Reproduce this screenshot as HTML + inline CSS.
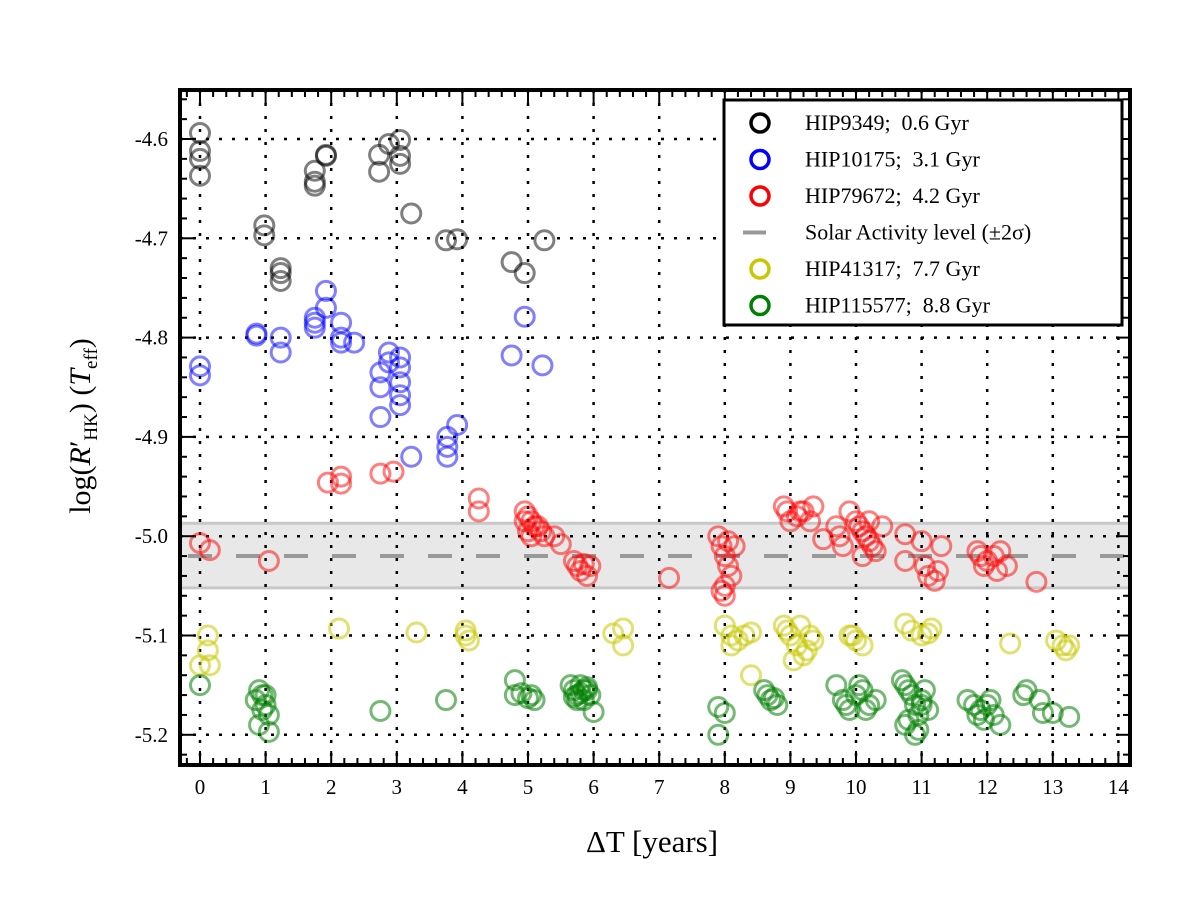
<!DOCTYPE html>
<html><head><meta charset="utf-8"><style>
body{margin:0;background:#fff;}
svg text{font-family:"Liberation Serif","DejaVu Serif",serif;}
</style></head><body>
<svg id="chart" width="1200" height="900" viewBox="0 0 1200 900" xmlns="http://www.w3.org/2000/svg">
<rect width="1200" height="900" fill="#fff"/>
<g id="band"></g>
<g id="grid"></g>
<g id="marks"></g>
<g id="axes"></g>
<text x="652" y="852" font-size="31" text-anchor="middle">ΔT [years]</text>
<text transform="translate(90,426) rotate(-90)" font-size="30" text-anchor="middle">log(<tspan font-style="italic">R</tspan>′<tspan font-size="19" dy="7">HK</tspan><tspan dy="-7">) (</tspan><tspan font-style="italic">T</tspan><tspan font-size="19" dy="7">eff</tspan><tspan dy="-7">)</tspan></text>
<g>
<rect x="724" y="100" width="398" height="225" fill="#fff" stroke="#000" stroke-width="3"/>
<g id="legend-items"></g>
</g>
</svg>
<script>
const xTicks=[0,1,2,3,4,5,6,7,8,9,10,11,12,13,14];
const yTicks=[-4.6,-4.7,-4.8,-4.9,-5.0,-5.1,-5.2];
const solarMean=-5.02, solarLow=-5.052, solarHigh=-4.987;
const blackX=[0,0,0,0,0.98,0.98,1.23,1.23,1.23,1.75,1.75,1.75,1.92,1.92,2.73,2.73,2.88,3.05,3.05,3.05,3.22,3.75,3.92,4.75,4.95,5.25];
const blackY=[-4.594,-4.612,-4.62,-4.637,-4.687,-4.697,-4.73,-4.735,-4.743,-4.632,-4.643,-4.647,-4.616,-4.617,-4.616,-4.633,-4.605,-4.601,-4.617,-4.625,-4.675,-4.702,-4.701,-4.724,-4.735,-4.702];
const blueX=[0,0,0.86,0.86,1.23,1.23,1.75,1.75,1.75,1.92,1.92,2.15,2.15,2.15,2.35,2.75,2.75,2.75,2.88,2.88,3.05,3.05,3.05,3.05,3.05,3.22,3.77,3.77,3.77,3.92,4.75,4.95,5.22];
const blueY=[-4.829,-4.838,-4.796,-4.798,-4.8,-4.815,-4.78,-4.79,-4.785,-4.753,-4.77,-4.785,-4.8,-4.805,-4.805,-4.835,-4.85,-4.88,-4.815,-4.825,-4.82,-4.83,-4.845,-4.858,-4.868,-4.92,-4.9,-4.91,-4.92,-4.888,-4.818,-4.779,-4.828];
const redX=[0,0.15,1.05,1.95,2.15,2.15,2.75,2.95,4.25,4.25,4.95,5.0,5.05,5.1,5.0,5.05,4.95,5.15,5.2,5.25,5.4,5.5,5.7,5.75,5.8,5.9,5.95,5.85,7.15,7.9,7.95,8.0,8.05,8.1,8.0,7.95,8.15,8.05,8.0,8.9,8.95,9.0,9.1,9.15,9.2,9.35,9.3,9.5,9.7,9.75,9.8,9.9,10.0,10.05,10.1,10.15,10.2,10.25,10.3,10.4,10.1,10.2,10.75,10.75,11.0,11.05,11.1,11.2,11.25,11.3,11.85,11.9,11.95,12.0,12.1,12.15,12.2,12.3,12.75];
const redY=[-5.007,-5.014,-5.025,-4.946,-4.94,-4.947,-4.937,-4.935,-4.962,-4.975,-4.975,-4.98,-4.985,-4.99,-4.995,-5.0,-4.985,-4.99,-4.995,-5.0,-5.0,-5.008,-5.025,-5.03,-5.035,-5.04,-5.03,-5.028,-5.042,-5.0,-5.01,-5.02,-5.03,-5.04,-5.05,-5.055,-5.01,-5.005,-5.06,-4.97,-4.975,-4.985,-4.98,-4.975,-4.975,-4.97,-4.985,-5.003,-4.99,-5.0,-5.01,-4.975,-4.985,-4.99,-4.995,-5.0,-5.005,-5.01,-5.015,-4.99,-5.02,-4.985,-4.998,-5.025,-5.005,-5.03,-5.04,-5.045,-5.035,-5.01,-5.015,-5.02,-5.03,-5.025,-5.02,-5.035,-5.015,-5.03,-5.046];
const yellowX=[0,0.12,0.12,0.15,2.12,3.3,4.05,4.05,4.1,6.3,6.45,6.45,8.0,8.1,8.2,8.3,8.1,8.4,8.4,8.9,8.95,9.0,9.1,9.15,9.2,9.3,9.35,9.25,9.05,9.9,9.95,10.0,10.1,10.75,10.85,11.0,11.1,11.15,12.35,13.05,13.15,13.2,13.25];
const yellowY=[-5.13,-5.1,-5.115,-5.13,-5.093,-5.097,-5.095,-5.1,-5.105,-5.098,-5.093,-5.11,-5.09,-5.1,-5.105,-5.1,-5.11,-5.097,-5.14,-5.09,-5.095,-5.1,-5.11,-5.09,-5.12,-5.1,-5.105,-5.115,-5.125,-5.1,-5.1,-5.105,-5.11,-5.088,-5.095,-5.1,-5.098,-5.093,-5.108,-5.105,-5.11,-5.115,-5.11];
const greenX=[0,0.85,0.9,0.95,1.0,1.05,0.9,0.95,1.0,1.05,2.75,3.75,4.8,4.8,4.9,5.0,5.05,5.1,5.65,5.7,5.75,5.8,5.85,5.9,5.95,5.7,5.8,5.9,5.75,5.85,6.0,7.9,7.9,8.0,8.6,8.65,8.7,8.8,8.75,9.7,9.8,9.9,10.0,10.1,10.2,10.3,9.85,10.05,10.15,10.7,10.75,10.8,10.85,10.9,10.95,11.0,11.05,11.1,10.8,10.9,10.75,10.95,11.0,11.7,11.8,11.85,11.9,11.95,12.0,12.05,12.1,12.2,12.55,12.6,12.8,12.85,13.0,13.25];
const greenY=[-5.15,-5.165,-5.155,-5.16,-5.17,-5.18,-5.19,-5.175,-5.16,-5.197,-5.176,-5.165,-5.145,-5.16,-5.158,-5.163,-5.16,-5.165,-5.15,-5.155,-5.16,-5.15,-5.165,-5.155,-5.16,-5.162,-5.158,-5.152,-5.165,-5.155,-5.177,-5.172,-5.2,-5.178,-5.155,-5.16,-5.165,-5.17,-5.163,-5.15,-5.165,-5.175,-5.16,-5.155,-5.17,-5.165,-5.17,-5.15,-5.175,-5.145,-5.15,-5.155,-5.16,-5.17,-5.18,-5.165,-5.155,-5.175,-5.185,-5.2,-5.19,-5.195,-5.17,-5.165,-5.17,-5.18,-5.175,-5.185,-5.17,-5.165,-5.18,-5.19,-5.16,-5.155,-5.165,-5.178,-5.178,-5.182];

const L=180,R=1130,T=90,B=765;
const X0=200,XS=65.6;
function sx(v){return X0+v*XS;}
function sy(v){return 139+(-4.6-v)*993;}
const NS='http://www.w3.org/2000/svg';
function mk(tag,attrs,parent){const e=document.createElementNS(NS,tag);for(const k in attrs)e.setAttribute(k,attrs[k]);parent.appendChild(e);return e;}
const band=document.getElementById('band');
const br=mk('rect',{x:L,y:sy(solarHigh),width:R-L,height:sy(solarLow)-sy(solarHigh),fill:'#e8e8e8'},band);


[solarHigh,solarLow].forEach(v=>{const l=mk('line',{x1:L,x2:R,y1:sy(v),y2:sy(v),stroke:'#c8c8c8','stroke-width':3},band);

});
const ml=mk('line',{x1:L,x2:R,y1:sy(solarMean),y2:sy(solarMean),stroke:'#999','stroke-width':4,'stroke-dasharray':'24 24','stroke-dashoffset':'-8'},band);


const grid=document.getElementById('grid');
xTicks.forEach(v=>{const x=sx(v);if(x>L&&x<R){const g=mk('line',{x1:x,x2:x,y1:T,y2:B,stroke:'#000','stroke-width':2.5,'stroke-dasharray':'3 10'},grid);

}});
yTicks.forEach(v=>{const y=sy(v);const g=mk('line',{x1:L,x2:R,y1:y,y2:y,stroke:'#000','stroke-width':2.5,'stroke-dasharray':'3 10'},grid);

});
const marks=document.getElementById('marks');
const series=[['black',blackX,blackY,'#000',0.5],['blue',blueX,blueY,'#0000ff',0.5],['red',redX,redY,'#ff0000',0.5],['yellow',yellowX,yellowY,'#c8c800',0.55],['green',greenX,greenY,'#008000',0.55]];
series.forEach(s=>{const g=mk('g',{},marks);


s[1].forEach((xv,i)=>{const c=mk('circle',{cx:sx(xv),cy:sy(s[2][i]),r:9.5,fill:'none',stroke:s[3],'stroke-width':3,'stroke-opacity':s[4]},g);

});});
const axes=document.getElementById('axes');
mk('rect',{x:L,y:T,width:R-L,height:B-T,fill:'none',stroke:'#000','stroke-width':4},axes);
for(let i=-1;i<=70;i++){const v=i*0.2;const x=sx(v);if(x<=L+1||x>=R-1)continue;const major=Math.abs(v-Math.round(v))<1e-6;const len=major?14:7;
mk('line',{x1:x,x2:x,y1:B,y2:B-len,stroke:'#000','stroke-width':2},axes);
mk('line',{x1:x,x2:x,y1:T,y2:T+len,stroke:'#000','stroke-width':2},axes);}
for(let i=0;i<=35;i++){const v=-4.56-i*0.02;const y=sy(v);if(y<=T+1||y>=B-1)continue;const major=Math.abs(v*10-Math.round(v*10))<1e-6;const len=major?14:7;
mk('line',{x1:L,x2:L+len,y1:y,y2:y,stroke:'#000','stroke-width':2},axes);
mk('line',{x1:R,x2:R-len,y1:y,y2:y,stroke:'#000','stroke-width':2},axes);}
xTicks.forEach(v=>{const t=mk('text',{x:sx(v),y:B+29,'font-size':21,'text-anchor':'middle'},axes);t.textContent=v;

});
yTicks.forEach(v=>{const t=mk('text',{x:L-12,y:sy(v)+7,'font-size':21,'text-anchor':'end'},axes);t.textContent=v.toFixed(1);

});
const legendLabels=['HIP9349;  0.6 Gyr','HIP10175;  3.1 Gyr','HIP79672;  4.2 Gyr','Solar Activity level (±2σ)','HIP41317;  7.7 Gyr','HIP115577;  8.8 Gyr'];
const legendColors=['#000','#0000ff','#ff0000',null,'#c8c800','#008000'];
const li=document.getElementById('legend-items');
legendLabels.forEach((lab,i)=>{const y=123+i*36.5;
if(legendColors[i]){const c=mk('circle',{cx:760,cy:y,r:9,fill:'none',stroke:legendColors[i],'stroke-width':3.5},li);

}
else{const l=mk('line',{x1:743,x2:766,y1:y,y2:y,stroke:'#999','stroke-width':4},li);

}
const t=mk('text',{x:805,y:y+7,'font-size':22,style:'white-space:pre'},li);t.textContent=lab;

});
</script>
</body></html>
